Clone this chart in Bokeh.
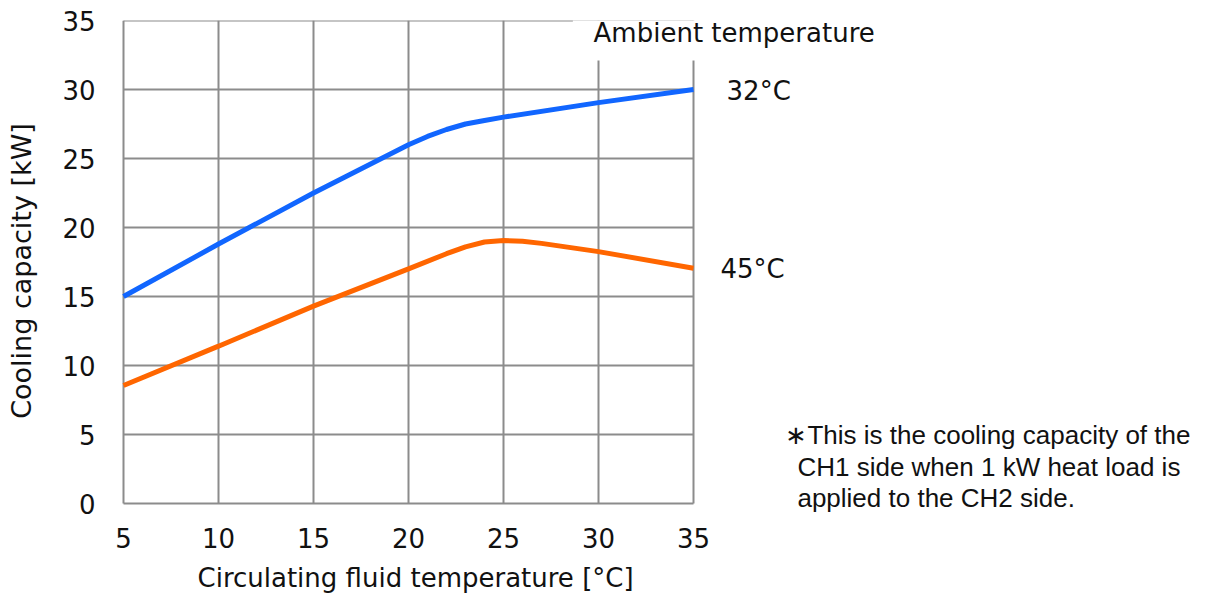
from bokeh.plotting import figure
from bokeh.models import Label, Range1d, FixedTicker, Title
from bokeh.embed import file_html
from bokeh.resources import INLINE

# Data
x_32 = [5, 10, 15, 20, 21, 22, 23, 24, 25, 30, 35]
y_32 = [15.0, 18.8, 22.5, 26.0, 26.6, 27.1, 27.5, 27.75, 28.0, 29.05, 30.0]
x_45 = [5, 10, 15, 20, 22, 23, 24, 25, 26, 27, 30, 35]
y_45 = [8.55, 11.4, 14.3, 17.0, 18.1, 18.6, 18.95, 19.05, 19.0, 18.85, 18.25, 17.05]
x_ticks = [5, 10, 15, 20, 25, 30, 35]
y_ticks = [0, 5, 10, 15, 20, 25, 30, 35]
series_labels = ["32°C", "45°C"]
heading = "Ambient temperature"
x_title = "Circulating fluid temperature [°C]"
y_title = "Cooling capacity [kW]"
note = ["∗This is the cooling capacity of the",
        "CH1 side when 1 kW heat load is",
        "applied to the CH2 side."]

FONT = "DejaVu Sans"
GRID = "#8c8c8c"
TXT = "#111111"
PX_X = 19.0    # pixels per x unit
PX_Y = 13.8    # pixels per y unit
LEFT, TOP, BOTTOM, W, H = 119, 20, 521, 1198, 606

p = figure(width=W, height=H, output_backend="svg", toolbar_location=None,
           x_range=Range1d(5 - (123 - LEFT) / PX_X, 5 + (W - 123) / PX_X),
           y_range=Range1d(-(BOTTOM - 503) / PX_Y, 35),
           min_border_left=LEFT, min_border_right=0, min_border_top=TOP,
           min_border_bottom=H - BOTTOM)
p.outline_line_color = None
p.xgrid.visible = False
p.ygrid.visible = False

for ax in (p.xaxis, p.yaxis):
    ax.major_tick_line_color = None
    ax.minor_tick_line_color = None
    ax.axis_line_color = None
    ax.major_label_text_font = FONT
    ax.major_label_text_font_size = "26px"
    ax.major_label_text_color = TXT
    ax.axis_label_text_font = FONT
    ax.axis_label_text_font_size = "27px"
    ax.axis_label_text_font_style = "normal"
    ax.axis_label_text_color = TXT

p.xaxis.ticker = FixedTicker(ticks=x_ticks)
p.yaxis.ticker = FixedTicker(ticks=y_ticks)
p.xaxis.major_label_standoff = 0
p.yaxis.major_label_standoff = 18
p.yaxis.axis_label = y_title
p.yaxis.axis_label_standoff = 22

p.add_layout(Title(text=x_title, align="left", offset=78, standoff=20,
                   text_font=FONT, text_font_size="26px", text_font_style="normal",
                   text_color=TXT), "below")

# grid lines drawn from the tick arrays
p.segment(x0=x_ticks, y0=[y_ticks[0]] * len(x_ticks), x1=x_ticks, y1=[y_ticks[-1]] * len(x_ticks),
          line_color=GRID, line_width=2)
p.segment(x0=[x_ticks[0]] * len(y_ticks), y0=y_ticks, x1=[x_ticks[-1]] * len(y_ticks), y1=y_ticks,
          line_color=GRID, line_width=2)
# white gap in the grid behind the heading
p.quad(left=[28.65], right=[35.5], bottom=[32.1], top=[35.5], fill_color="white", line_color=None)

p.line(x_32, y_32, line_color="#1166ff", line_width=5)
p.line(x_45, y_45, line_color="#ff6600", line_width=5)

p.add_layout(Label(x=29.74, y=34.13, text=heading, text_font=FONT,
                   text_font_size="26px", text_baseline="middle", text_color=TXT))
p.add_layout(Label(x=36.74, y=29.9, text=series_labels[0], text_font=FONT,
                   text_font_size="26px", text_baseline="middle", text_color=TXT))
p.add_layout(Label(x=36.42, y=17.0, text=series_labels[1], text_font=FONT,
                   text_font_size="26px", text_baseline="middle", text_color=TXT))

for i, (t, yy) in enumerate(zip(note, [4.93, 2.61, 0.43])):
    p.add_layout(Label(x=39.84 if i == 0 else 40.47, y=yy, text=t,
                       text_font="Liberation Sans", text_font_size="26px",
                       text_baseline="middle", text_color=TXT))

open("out.html", "w").write(file_html(p, INLINE))
